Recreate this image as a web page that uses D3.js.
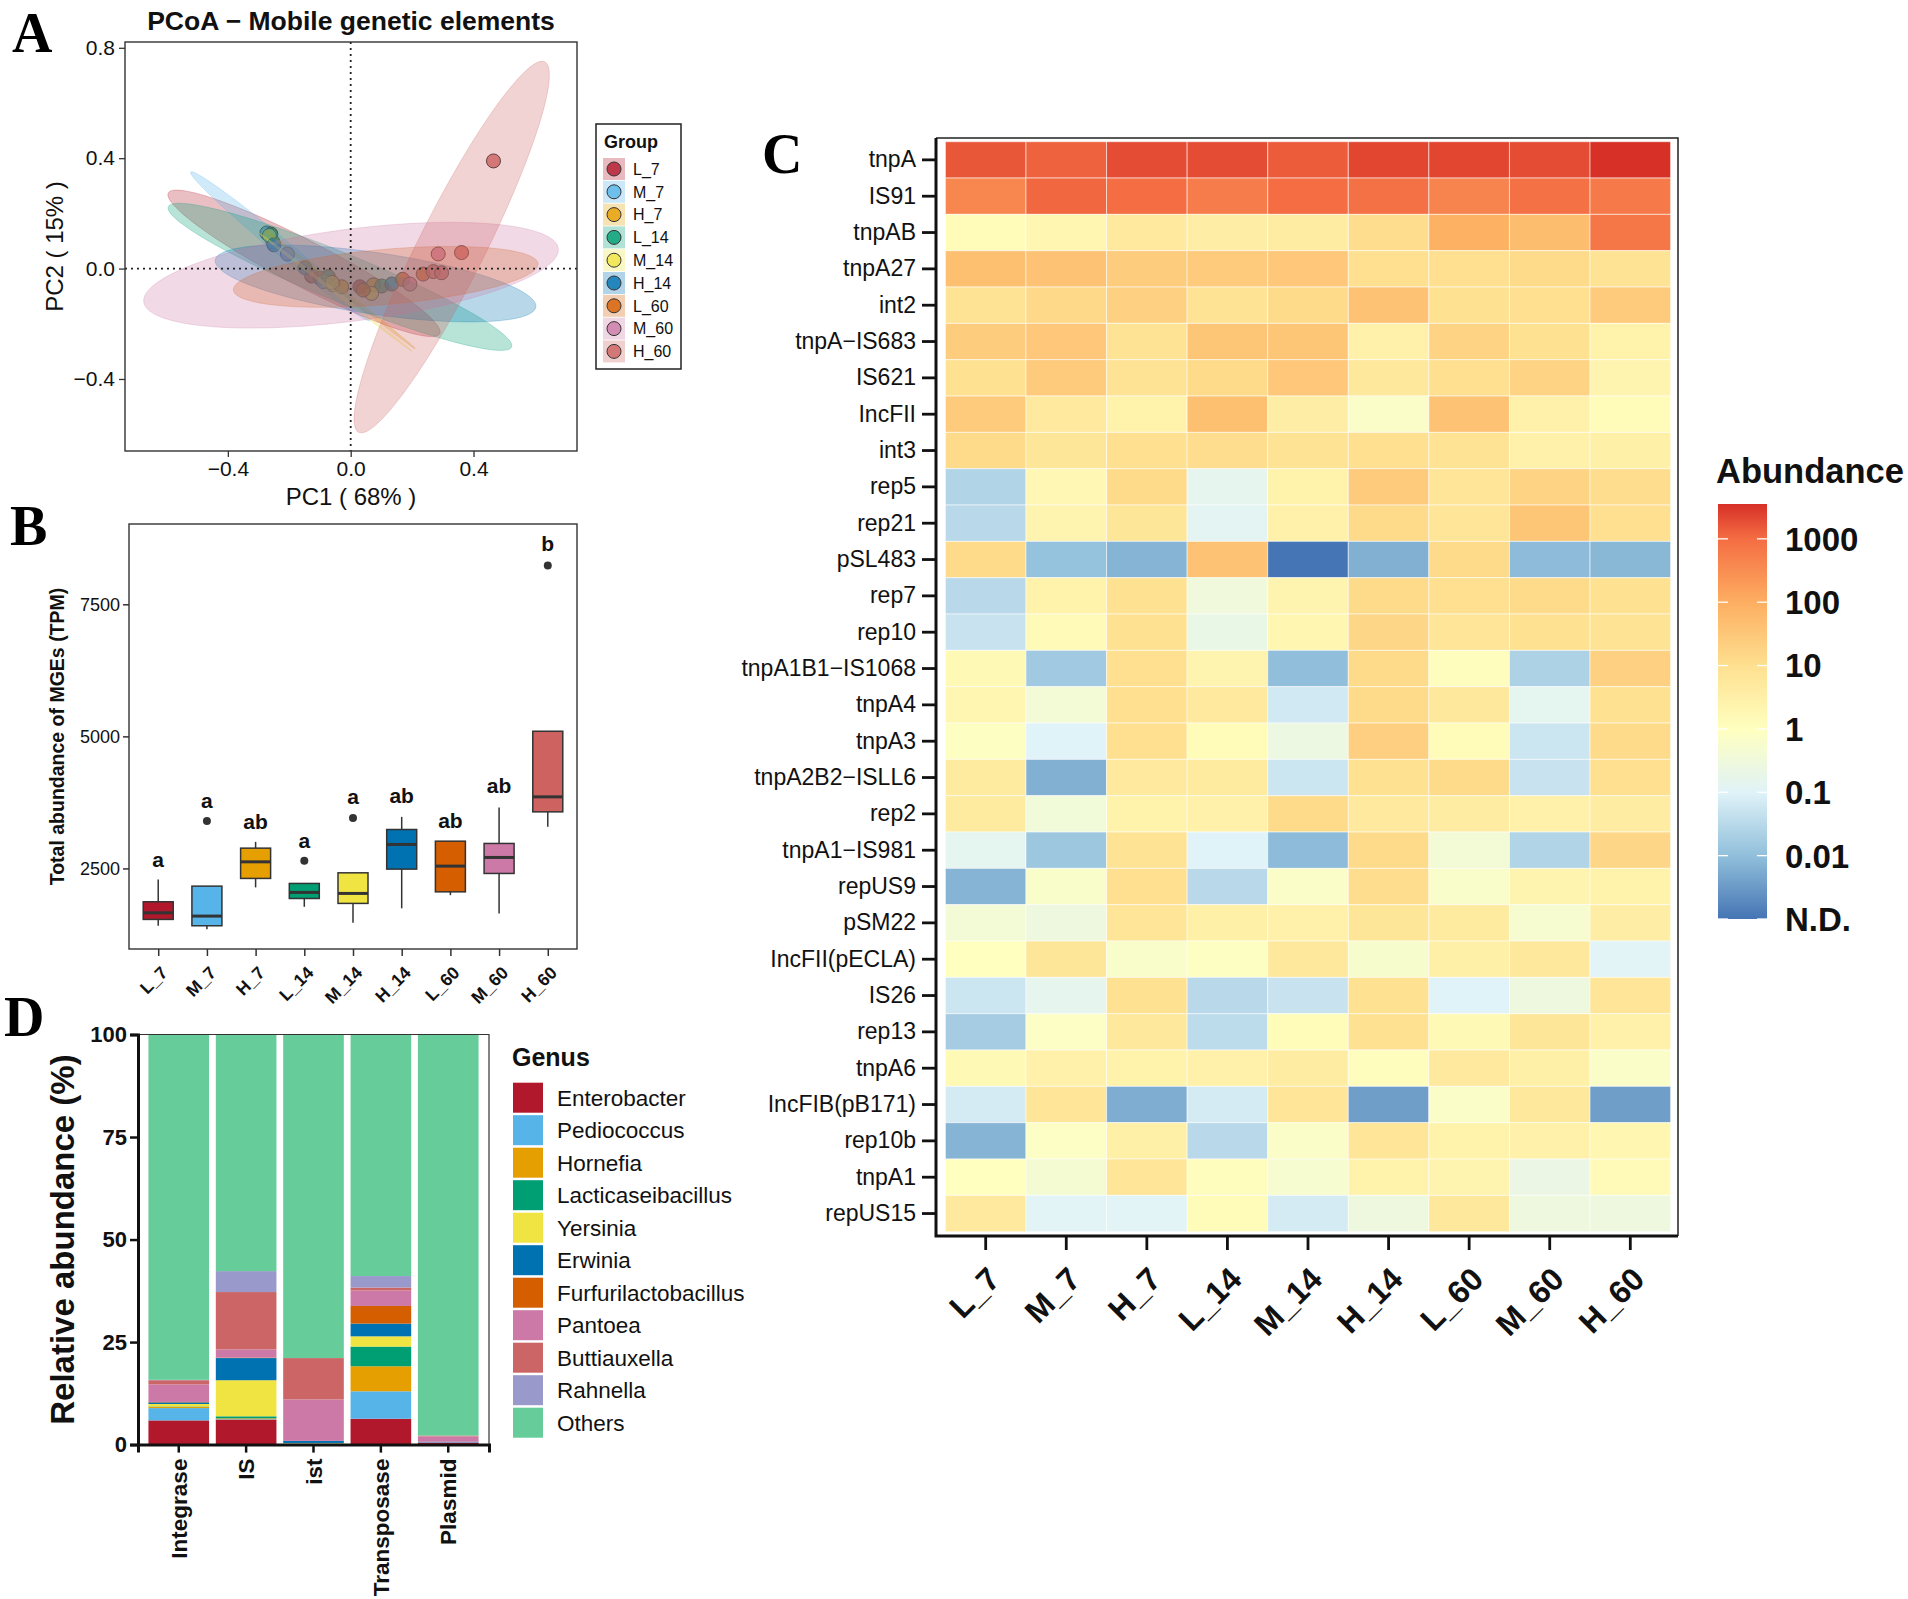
<!DOCTYPE html>
<html>
<head>
<meta charset="utf-8">
<script src="https://d3js.org/d3.v7.min.js"></script>
<style>
  body { margin: 0; background: #fff; }
  svg text { font-family: "Liberation Sans", Arial, Helvetica, sans-serif; fill: #111; }
  svg text.tag { font-family: "Liberation Serif", "Times New Roman", serif; font-weight: bold; fill: #000; }
</style>
</head>
<body>
<script>
// ---------------- data ----------------
const groups = ["L_7", "M_7", "H_7", "L_14", "M_14", "H_14", "L_60", "M_60", "H_60"];
const groupColors = ["#B2182B", "#56B4E9", "#E69F00", "#009E73", "#F0E442", "#0072B2", "#D55E00", "#CC79A7", "#CD6260"];

// A: PCoA sample scores
const pcoaGroup = ["L_7","L_7","L_7","M_7","M_7","M_7","H_7","H_7","H_7",
                   "L_14","L_14","L_14","M_14","M_14","M_14","H_14","H_14","H_14",
                   "L_60","L_60","L_60","M_60","M_60","M_60","H_60","H_60","H_60","H_60"];
const pcoaPC1 = [-0.127, -0.100, 0.030, -0.273, -0.253, -0.089, -0.057, -0.029, 0.074,
                 -0.260, -0.073, 0.101, -0.265, -0.060, 0.068, -0.250, -0.149, 0.134,
                 0.041, 0.169, 0.236, -0.206, 0.193, 0.285, 0.269, 0.296, 0.361, 0.465];
const pcoaPC2 = [-0.027, -0.035, -0.066, 0.129, 0.096, -0.047, -0.059, -0.066, -0.059,
                 0.125, -0.029, -0.063, 0.120, -0.050, -0.090, 0.086, 0.003, -0.056,
                 -0.078, -0.039, -0.020, 0.053, -0.056, 0.053, -0.011, -0.015, 0.058, 0.390];

// A: confidence ellipses (centre, tip of major axis, minor/major ratio)
const ellGroup = ["L_7", "M_7", "H_7", "L_14", "M_14", "H_14", "L_60", "M_60", "H_60"];
const ellCx    = [-0.152, -0.229, -0.035, -0.035, -0.05, 0.081, 0.114, 0.001, 0.329];
const ellCy    = [0.019, 0.081, -0.075, -0.030, -0.085, -0.054, -0.030, -0.024, 0.078];
const ellTipX  = [-0.594, -0.521, 0.21, -0.594, 0.20, 0.603, 0.610, 0.676, 0.632];
const ellTipY  = [0.274, 0.350, -0.29, 0.224, -0.30, -0.139, 0.018, 0.073, 0.749];
const ellRatio = [0.15, 0.07, 0.02, 0.13, 0.015, 0.19, 0.18, 0.22, 0.16];
const pcTicksY = [-0.4, 0, 0.4, 0.8];
const pcTicksX = [-0.4, 0, 0.4];

// B: total abundance box plots (TPM)
const boxLow    = [1415, 1347, 2141, 1774, 1471, 1745, 1994, 1649, 3287];
const boxQ1     = [1535, 1415, 2311, 1931, 1838, 2487, 2057, 2405, 3571];
const boxMedian = [1660, 1598, 2625, 2046, 2027, 2954, 2544, 2708, 3855];
const boxQ3     = [1869, 2165, 2884, 2216, 2417, 3237, 3016, 2973, 5097];
const boxHigh   = [2292, 2165, 3003, 2216, 2417, 3476, 3016, 3654, 5097];
const outGroup  = ["M_7", "L_14", "M_14", "H_60"];
const outValue  = [3400, 2644, 3457, 8236];
const sigLetter = ["a", "a", "ab", "a", "a", "ab", "ab", "ab", "b"];
const sigAt     = [2670, 3792, 3395, 3035, 3855, 3886, 3414, 4062, 8646];
const boxTicks  = [2500, 5000, 7500];

// D: genus composition (%)
const mgeTypes = ["Integrase", "IS", "ist", "Transposase", "Plasmid"];
const genera = ["Enterobacter", "Pediococcus", "Hornefia", "Lacticaseibacillus", "Yersinia", "Erwinia",
                "Furfurilactobacillus", "Pantoea", "Buttiauxella", "Rahnella", "Others"];
const genusColors = ["#B2182B", "#56B4E9", "#E69F00", "#009E73", "#F0E442", "#0072B2",
                     "#D55E00", "#CC79A7", "#CC6666", "#9999CC", "#66CC99"];
const enterobacter   = [5.9, 6.1, 0.2, 6.3, 0.5];
const pediococcus    = [3.0, 0.1, 0.1, 6.7, 0.1];
const hornefia       = [0.3, 0.2, 0.0, 6.1, 0.0];
const lacticasei     = [0.1, 0.5, 0.0, 4.8, 0.0];
const yersinia       = [0.6, 8.8, 0.1, 2.5, 0.0];
const erwinia        = [0.4, 5.4, 0.5, 3.1, 0.1];
const furfurilacto   = [0.1, 0.1, 0.0, 4.3, 0.0];
const pantoea        = [4.3, 2.0, 10.1, 3.8, 1.3];
const buttiauxella   = [1.0, 14.0, 10.1, 0.7, 0.2];
const rahnella       = [0.1, 5.1, 0.0, 2.8, 0.0];
const others         = [84.2, 57.7, 78.9, 58.9, 97.8];
const genusShares = [enterobacter, pediococcus, hornefia, lacticasei, yersinia, erwinia,
                     furfurilacto, pantoea, buttiauxella, rahnella, others];
const shareTicks = [0, 25, 50, 75, 100];

// C: heatmap, log10 abundance (-3 = not detected)
const mgeGenes = ["tnpA", "IS91", "tnpAB", "tnpA27", "int2", "tnpA\u2212IS683", "IS621", "IncFII", "int3", "rep5",
                  "rep21", "pSL483", "rep7", "rep10", "tnpA1B1\u2212IS1068", "tnpA4", "tnpA3", "tnpA2B2\u2212ISLL6", "rep2", "tnpA1\u2212IS981",
                  "repUS9", "pSM22", "IncFII(pECLA)", "IS26", "rep13", "tnpA6", "IncFIB(pB171)", "rep10b", "tnpA1", "repUS15"];
const abundanceLog10 = [
  [3.2, 3.1, 3.3, 3.3, 3.15, 3.35, 3.35, 3.3, 3.55],
  [2.6, 3.05, 3.0, 2.75, 3.0, 2.95, 2.65, 2.95, 2.8],
  [0.1, 0.3, 0.7, 0.55, 0.6, 1.05, 1.95, 1.7, 2.85],
  [1.65, 1.6, 1.4, 1.45, 1.5, 1.0, 1.0, 1.1, 0.9],
  [0.9, 1.15, 1.3, 0.9, 1.1, 1.6, 0.95, 1.0, 1.45],
  [1.4, 1.5, 0.9, 1.55, 1.55, 0.45, 1.25, 0.95, 0.4],
  [0.95, 1.45, 0.9, 1.1, 1.5, 0.75, 1.0, 1.25, 0.35],
  [1.45, 0.7, 0.4, 1.65, 0.55, -0.15, 1.6, 0.45, 0.1],
  [1.1, 0.8, 1.0, 1.05, 0.9, 1.0, 0.9, 0.45, 0.5],
  [-1.6, 0.25, 1.1, -0.8, 0.4, 1.45, 0.85, 1.25, 1.05],
  [-1.5, 0.35, 0.8, -0.9, 0.45, 1.1, 0.85, 1.55, 1.0],
  [1.1, -1.95, -2.15, 1.6, -3, -2.2, 1.1, -2.05, -2.1],
  [-1.5, 0.4, 0.95, -0.5, 0.35, 1.1, 1.0, 1.1, 0.95],
  [-1.3, 0.15, 0.95, -0.7, 0.3, 1.2, 0.85, 0.95, 0.9],
  [0.2, -1.8, 1.0, 0.35, -2.0, 1.1, 0.05, -1.65, 1.3],
  [0.3, -0.4, 1.0, 0.7, -1.2, 1.1, 0.75, -0.85, 0.95],
  [-0.05, -1.0, 1.0, 0.1, -0.6, 1.35, 0.1, -1.25, 1.1],
  [0.65, -2.2, 0.7, 0.65, -1.25, 0.95, 1.1, -1.3, 1.0],
  [0.65, -0.45, 0.4, 0.45, 1.1, 0.7, 0.6, 0.45, 0.6],
  [-0.85, -1.85, 0.9, -1.0, -2.05, 1.1, -0.4, -1.6, 1.2],
  [-2.15, -0.2, 1.0, -1.5, -0.15, 1.05, -0.2, 0.35, 0.4],
  [-0.4, -0.55, 0.85, 0.5, 0.45, 0.8, 0.65, -0.3, 0.55],
  [0.0, 0.8, -0.2, -0.05, 0.75, -0.25, 0.5, 0.75, -0.95],
  [-1.25, -0.8, 0.95, -1.5, -1.3, 0.95, -1.0, -0.55, 0.85],
  [-1.75, -0.1, 0.75, -1.45, 0.1, 0.95, 0.2, 0.8, 0.45],
  [0.2, 0.45, 0.4, 0.45, 0.6, 0.05, 0.7, 0.5, -0.15],
  [-1.15, 0.85, -2.25, -1.15, 0.85, -2.45, -0.15, 0.75, -2.45],
  [-2.15, -0.1, 0.5, -1.5, -0.15, 0.85, 0.4, 0.45, 0.3],
  [0.0, -0.35, 0.85, 0.05, -0.3, 0.4, 0.35, -0.65, 0.15],
  [0.7, -0.95, -0.95, 0.1, -1.15, -0.55, 0.75, -0.55, -0.55]
];
const legendBreaks = [-3, -2, -1, 0, 1, 2, 3];
const legendLabels = ["N.D.", "0.01", "0.1", "1", "10", "100", "1000"];

// ---------------- drawing ----------------
const svg = d3.select("body").append("svg")
    .attr("width", 1908)
    .attr("height", 1599);

const groupColor = d3.scaleOrdinal().domain(groups).range(groupColors);

function tag(txt, x, y) {
  svg.append("text").attr("class", "tag").attr("x", x).attr("y", y)
    .style("font-size", "56px").text(txt);
}

// ===== A: PCoA =====
const A = {left: 125, right: 577, top: 42, bottom: 451};
const ax = d3.scaleLinear().domain([-0.735, 0.737]).range([A.left, A.right]);
const ay = d3.scaleLinear().domain([-0.661, 0.821]).range([A.bottom, A.top]);

svg.append("clipPath").attr("id", "clipA").append("rect")
    .attr("x", A.left).attr("y", A.top).attr("width", A.right - A.left).attr("height", A.bottom - A.top);

const gA = svg.append("g").attr("clip-path", "url(#clipA)");

// points first, ellipses laid over them
gA.selectAll("circle")
  .data(pcoaGroup.map((g, i) => ({g, x: pcoaPC1[i], y: pcoaPC2[i]})))
  .enter().append("circle")
    .attr("cx", d => ax(d.x))
    .attr("cy", d => ay(d.y))
    .attr("r", 7)
    .attr("fill", d => groupColor(d.g))
    .attr("fill-opacity", 0.8)
    .attr("stroke", "#333")
    .attr("stroke-width", 1);

const ellipses = ellGroup.map((g, i) => ({g, cx: ellCx[i], cy: ellCy[i], tx: ellTipX[i], ty: ellTipY[i], r: ellRatio[i]}));
const ellLine = d3.line();
gA.selectAll("path.ell")
  .data(ellipses)
  .enter().append("path")
    .attr("class", "ell")
    .attr("d", e => {
      const c = [ax(e.cx), ay(e.cy)];
      const m = [ax(e.tx) - c[0], ay(e.ty) - c[1]];
      const p = [-m[1] * e.r, m[0] * e.r];
      const pts = d3.range(0, 121).map(k => {
        const a = k / 120 * 2 * Math.PI;
        return [c[0] + Math.cos(a) * m[0] + Math.sin(a) * p[0], c[1] + Math.cos(a) * m[1] + Math.sin(a) * p[1]];
      });
      return ellLine(pts) + "Z";
    })
    .attr("fill", e => groupColor(e.g))
    .attr("fill-opacity", 0.28)
    .attr("stroke", e => groupColor(e.g))
    .attr("stroke-opacity", 0.25)
    .attr("stroke-width", 1);

// zero reference lines
gA.append("line").attr("x1", ax(0)).attr("x2", ax(0)).attr("y1", A.top).attr("y2", A.bottom)
  .attr("stroke", "#222").attr("stroke-width", 1.8).attr("stroke-dasharray", "2,4");
gA.append("line").attr("x1", A.left).attr("x2", A.right).attr("y1", ay(0)).attr("y2", ay(0))
  .attr("stroke", "#222").attr("stroke-width", 1.8).attr("stroke-dasharray", "2,4");

svg.append("rect").attr("x", A.left).attr("y", A.top).attr("width", A.right - A.left).attr("height", A.bottom - A.top)
  .attr("fill", "none").attr("stroke", "#333").attr("stroke-width", 1.4);

const fmt1 = d3.format(".1f");
const axA = svg.append("g").attr("transform", `translate(${A.left},0)`)
  .call(d3.axisLeft(ay).tickValues(pcTicksY).tickFormat(fmt1).tickSize(6).tickPadding(4));
const axAb = svg.append("g").attr("transform", `translate(0,${A.bottom})`)
  .call(d3.axisBottom(ax).tickValues(pcTicksX).tickFormat(fmt1).tickSize(6).tickPadding(4));
[axA, axAb].forEach(g => {
  g.select(".domain").remove();
  g.selectAll("line").attr("stroke", "#333").attr("stroke-width", 1.3);
  g.selectAll("text").style("font-size", "21px").attr("fill", "#111");
});

svg.append("text").attr("x", (A.left + A.right) / 2).attr("y", 30).attr("text-anchor", "middle")
  .style("font-size", "26.5px").style("font-weight", "bold").text("PCoA \u2212 Mobile genetic elements");
svg.append("text").attr("x", (A.left + A.right) / 2).attr("y", 505).attr("text-anchor", "middle")
  .style("font-size", "24px").text("PC1 ( 68% )");
svg.append("text").attr("transform", `translate(63,${(A.top + A.bottom) / 2}) rotate(-90)`).attr("text-anchor", "middle")
  .style("font-size", "24px").text("PC2 ( 15% )");

// group legend
const legA = svg.append("g");
legA.append("rect").attr("x", 596).attr("y", 124).attr("width", 85).attr("height", 245)
  .attr("fill", "#fff").attr("stroke", "#222").attr("stroke-width", 1.5);
legA.append("text").attr("x", 604).attr("y", 148).style("font-size", "18px").style("font-weight", "bold").text("Group");
const legItems = legA.selectAll("g.item").data(groups).enter().append("g")
  .attr("class", "item")
  .attr("transform", (d, i) => `translate(0,${169 + i * 22.8})`);
legItems.append("rect").attr("x", 603).attr("y", -11).attr("width", 22).attr("height", 22)
  .attr("fill", d => groupColor(d)).attr("fill-opacity", 0.3);
legItems.append("circle").attr("cx", 614).attr("cy", 0).attr("r", 7)
  .attr("fill", d => groupColor(d)).attr("fill-opacity", 0.8).attr("stroke", "#333");
legItems.append("text").attr("x", 633).attr("dy", "0.36em").style("font-size", "16px").text(d => d);

tag("A", 12, 52);

// ===== B: box plots =====
const B = {left: 129, right: 577, top: 524, bottom: 949};
const bx = d3.scalePoint().domain(groups).range([B.left, B.right]).padding(0.6);
const by = d3.scaleLinear().domain([975, 9020]).range([B.bottom, B.top]);
const boxW = 30;

const boxes = groups.map((g, i) => ({g, lo: boxLow[i], q1: boxQ1[i], med: boxMedian[i], q3: boxQ3[i], hi: boxHigh[i]}));
const gB = svg.append("g");
gB.selectAll("line.wh")
  .data(boxes).enter().append("line").attr("class", "wh")
    .attr("x1", d => bx(d.g)).attr("x2", d => bx(d.g))
    .attr("y1", d => by(d.lo)).attr("y2", d => by(d.hi))
    .attr("stroke", "#333").attr("stroke-width", 1.5);
gB.selectAll("rect.box")
  .data(boxes).enter().append("rect").attr("class", "box")
    .attr("x", d => bx(d.g) - boxW / 2).attr("width", boxW)
    .attr("y", d => by(d.q3)).attr("height", d => by(d.q1) - by(d.q3))
    .attr("fill", d => groupColor(d.g)).attr("stroke", "#333").attr("stroke-width", 1.5);
gB.selectAll("line.med")
  .data(boxes).enter().append("line").attr("class", "med")
    .attr("x1", d => bx(d.g) - boxW / 2).attr("x2", d => bx(d.g) + boxW / 2)
    .attr("y1", d => by(d.med)).attr("y2", d => by(d.med))
    .attr("stroke", "#333").attr("stroke-width", 3);
gB.selectAll("circle")
  .data(outGroup.map((g, i) => ({g, v: outValue[i]}))).enter().append("circle")
    .attr("cx", d => bx(d.g)).attr("cy", d => by(d.v)).attr("r", 4)
    .attr("fill", "#333");
gB.selectAll("text.sig")
  .data(groups.map((g, i) => ({g, t: sigLetter[i], v: sigAt[i]}))).enter().append("text").attr("class", "sig")
    .attr("x", d => bx(d.g)).attr("y", d => by(d.v)).attr("dy", "0.36em")
    .attr("text-anchor", "middle").style("font-size", "21px").style("font-weight", "bold")
    .text(d => d.t);

svg.append("rect").attr("x", B.left).attr("y", B.top).attr("width", B.right - B.left).attr("height", B.bottom - B.top)
  .attr("fill", "none").attr("stroke", "#333").attr("stroke-width", 1.4);
const axB = svg.append("g").attr("transform", `translate(${B.left},0)`)
  .call(d3.axisLeft(by).tickValues(boxTicks).tickFormat(d3.format("d")).tickSize(6).tickPadding(3));
const axBb = svg.append("g").attr("transform", `translate(0,${B.bottom})`)
  .call(d3.axisBottom(bx).tickSize(7));
[axB, axBb].forEach(g => {
  g.select(".domain").remove();
  g.selectAll("line").attr("stroke", "#333").attr("stroke-width", 1.5);
});
axB.selectAll("text").style("font-size", "18px").attr("fill", "#111");
axBb.selectAll("text")
  .attr("x", 0).attr("y", 0).attr("dy", "0.71em")
  .attr("text-anchor", "end")
  .attr("transform", "translate(1,16) rotate(-45)")
  .style("font-size", "17.5px").style("font-weight", "bold").attr("fill", "#111");
svg.append("text").attr("transform", `translate(57,${(B.top + B.bottom) / 2}) rotate(-90)`)
  .attr("dy", "0.36em").attr("text-anchor", "middle")
  .style("font-size", "19.5px").style("font-weight", "bold").text("Total abundance of MGEs (TPM)");

tag("B", 10, 545);

// ===== D: stacked composition =====
const D = {left: 138, right: 489, top: 1034.5, bottom: 1444.6};
const dx = d3.scaleBand().domain(mgeTypes).range([D.left, D.right]).paddingInner(0.1).paddingOuter(0.155);
const dy = d3.scaleLinear().domain([0, 100]).range([D.bottom, D.top]);
const genusColor = d3.scaleOrdinal().domain(genera).range(genusColors);

const shareRows = mgeTypes.map((t, i) => {
  const row = {type: t};
  genera.forEach((g, k) => { row[g] = genusShares[k][i]; });
  return row;
});
const stacked = d3.stack().keys(genera)(shareRows);

svg.append("g").selectAll("g")
  .data(stacked).enter().append("g")
    .attr("fill", s => genusColor(s.key))
  .selectAll("rect")
  .data(s => s).enter().append("rect")
    .attr("x", d => dx(d.data.type))
    .attr("width", dx.bandwidth())
    .attr("y", d => dy(d[1]))
    .attr("height", d => dy(d[0]) - dy(d[1]));

// top / right frame
svg.append("path").attr("d", `M${D.left},${D.top}H${D.right}V${D.bottom}`)
  .attr("fill", "none").attr("stroke", "#333").attr("stroke-width", 1.2);
const axD = svg.append("g").attr("transform", `translate(${D.left},0)`)
  .call(d3.axisLeft(dy).tickValues(shareTicks).tickSize(8).tickPadding(3));
const axDb = svg.append("g").attr("transform", `translate(0,${D.bottom})`)
  .call(d3.axisBottom(dx).tickSize(8));
[axD, axDb].forEach(g => {
  g.select(".domain").attr("stroke", "#111").attr("stroke-width", 3);
  g.selectAll("line").attr("stroke", "#111").attr("stroke-width", 2.5);
});
axD.selectAll("text").style("font-size", "22px").style("font-weight", "bold").attr("fill", "#111");
axDb.selectAll("text")
  .attr("x", 0).attr("y", 0).attr("dy", "0.36em")
  .attr("text-anchor", "end")
  .attr("transform", "translate(0,14) rotate(-90)")
  .style("font-size", "22.5px").style("font-weight", "bold").attr("fill", "#111");
svg.append("text").attr("transform", `translate(62,${(D.top + D.bottom) / 2}) rotate(-90)`)
  .attr("dy", "0.36em").attr("text-anchor", "middle")
  .style("font-size", "33px").style("font-weight", "bold").text("Relative abundance (%)");

const legD = svg.append("g");
legD.append("text").attr("x", 512).attr("y", 1066).style("font-size", "25px").style("font-weight", "bold").text("Genus");
const legDItems = legD.selectAll("g.item").data(genera).enter().append("g")
  .attr("class", "item")
  .attr("transform", (d, i) => `translate(0,${1097.7 + i * 32.5})`);
legDItems.append("rect").attr("x", 513).attr("y", -15).attr("width", 30).attr("height", 30)
  .attr("fill", d => genusColor(d));
legDItems.append("text").attr("x", 557).attr("dy", "0.36em").style("font-size", "22.5px").text(d => d);

tag("D", 4, 1036);

// ===== C: heatmap =====
const H = {left: 936, right: 1678, top: 138, bottom: 1236};
const hx = d3.scaleBand().domain(groups).range([945.4, 1670.6]);
const hy = d3.scaleBand().domain(mgeGenes).range([141.7, 1231.7]);
const heatColor = d3.scaleLinear()
  .domain([-3, -2, -1, 0, 1, 2, 3, 3.55])
  .range(["#4575b4", "#91bfdb", "#e0f3f8", "#ffffbf", "#fee090", "#fdae61", "#f46d43", "#d73027"])
  .clamp(true);

const cells = [];
mgeGenes.forEach((gene, r) => groups.forEach((g, c) => cells.push({gene, g, v: abundanceLog10[r][c]})));

svg.append("g").selectAll("rect")
  .data(cells).enter().append("rect")
    .attr("x", d => hx(d.g))
    .attr("y", d => hy(d.gene))
    .attr("width", hx.bandwidth())
    .attr("height", hy.bandwidth())
    .attr("fill", d => heatColor(d.v))
    .attr("stroke", "#fff")
    .attr("stroke-opacity", 0.55)
    .attr("stroke-width", 1);

svg.append("path").attr("d", `M${H.left},${H.top}H${H.right}V${H.bottom}`)
  .attr("fill", "none").attr("stroke", "#222").attr("stroke-width", 1.5);
svg.append("path").attr("d", `M${H.left},${H.top}V${H.bottom}H${H.right}`)
  .attr("fill", "none").attr("stroke", "#111").attr("stroke-width", 3);

const axH = svg.append("g").attr("transform", `translate(${H.left},0)`)
  .call(d3.axisLeft(hy).tickSize(14).tickPadding(6));
const axHb = svg.append("g").attr("transform", `translate(0,${H.bottom})`)
  .call(d3.axisBottom(hx).tickSize(14));
[axH, axHb].forEach(g => {
  g.select(".domain").remove();
  g.selectAll("line").attr("stroke", "#111").attr("stroke-width", 2.8);
});
axH.selectAll("text").style("font-size", "23px").attr("fill", "#111");
axHb.selectAll("text")
  .attr("x", 0).attr("y", 0).attr("dy", "0.71em")
  .attr("text-anchor", "end")
  .attr("transform", "translate(0,29) rotate(-45)")
  .style("font-size", "32px").style("font-weight", "bold").attr("fill", "#111");

tag("C", 762, 173);

// colour bar legend
const ly = d3.scaleLinear().domain([-3, 3.55]).range([919, 504]);
const grad = svg.append("defs").append("linearGradient").attr("id", "abund")
  .attr("x1", 0).attr("y1", 1).attr("x2", 0).attr("y2", 0);
grad.selectAll("stop").data(heatColor.domain()).enter().append("stop")
  .attr("offset", d => (d + 3) / 6.55)
  .attr("stop-color", d => heatColor(d));
svg.append("rect").attr("x", 1718).attr("y", ly(3.55)).attr("width", 49).attr("height", ly(-3) - ly(3.55))
  .attr("fill", "url(#abund)");
const legTicks = svg.append("g").selectAll("g").data(legendBreaks).enter().append("g")
  .attr("transform", d => `translate(0,${ly(d)})`);
legTicks.append("line").attr("x1", 1718).attr("x2", 1728).attr("stroke", "#fff").attr("stroke-width", 1.3);
legTicks.append("line").attr("x1", 1757).attr("x2", 1767).attr("stroke", "#fff").attr("stroke-width", 1.3);
legTicks.append("text").attr("x", 1785).attr("dy", "0.36em")
  .style("font-size", "33px").style("font-weight", "bold").attr("fill", "#111")
  .text((d, i) => legendLabels[i]);
svg.append("text").attr("x", 1716).attr("y", 483).style("font-size", "34.5px").style("font-weight", "bold").text("Abundance");
</script>
</body>
</html>
